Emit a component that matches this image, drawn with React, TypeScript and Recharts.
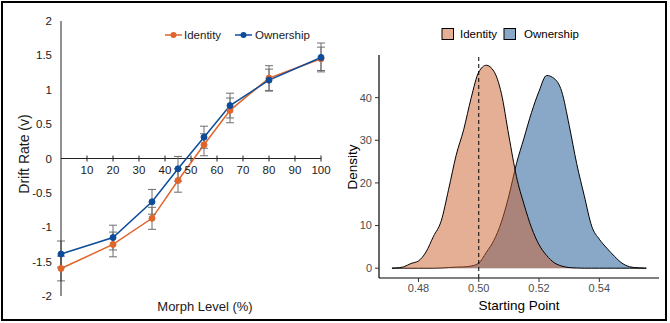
import {
  LineChart,
  Line,
  AreaChart,
  Area,
  XAxis,
  YAxis,
  ErrorBar,
  ReferenceLine,
  ReferenceDot,
} from 'recharts'

// Left panel: drift rate by morph level
const morphLevels = [0, 20, 35, 45, 55, 65, 80, 100]
const identityDrift = [-1.6, -1.25, -0.87, -0.32, 0.2, 0.7, 1.17, 1.45]
const identityErr = [0.18, 0.18, 0.16, 0.17, 0.16, 0.18, 0.18, 0.17]
const ownershipDrift = [-1.39, -1.15, -0.63, -0.15, 0.31, 0.77, 1.14, 1.47]
const ownershipErr = [0.19, 0.18, 0.18, 0.18, 0.16, 0.18, 0.16, 0.21]
const morphTicks = [10, 20, 30, 40, 50, 60, 70, 80, 90, 100]
const driftTicks = [-2, -1.5, -1, -0.5, 0, 0.5, 1, 1.5, 2]

// Right panel: posterior densities of the starting point
const startingPoint = [
  0.4712, 0.4725, 0.475, 0.4775, 0.48, 0.4825, 0.485, 0.4875, 0.49, 0.4925,
  0.495, 0.4975, 0.5, 0.5025, 0.505, 0.5075, 0.51, 0.5125, 0.515, 0.5175,
  0.52, 0.5225, 0.525, 0.5275, 0.53, 0.5325, 0.535, 0.5375, 0.54, 0.5425,
  0.545, 0.5475, 0.55, 0.5525, 0.555, 0.5556,
]
const identityDensity = [
  0, 0.05, 0.3, 1.1, 1.7, 3.8, 7.5, 11, 18.5, 26.5,
  32.5, 40, 46, 47.6, 46.2, 41, 31, 21.5, 15, 9.5,
  5.5, 3, 1.3, 0.5, 0.15, 0.05, 0, 0, 0, 0,
  0, 0, 0, 0, 0, 0,
]
const ownershipDensity = [
  0, 0, 0, 0, 0, 0, 0, 0.05, 0.15, 0.25,
  0.3, 0.5, 1.2, 3.7, 6.5, 10.8, 17, 24.5, 30.5, 36.5,
  41.5, 45.2, 44.5, 41.5, 33.5, 24.5, 17, 9.8, 6.8, 4.7,
  2.8, 1.2, 0.35, 0.1, 0.02, 0,
]
const densityTicks = [0, 10, 20, 30, 40]
const pointTicks = [0.48, 0.5, 0.52, 0.54]

const ORANGE = '#E0652C'
const BLUE = '#0D4C98'
const FONT = '"Liberation Sans", Arial, sans-serif'

const driftData = morphLevels.map((m, i) => ({
  morph: m,
  identity: identityDrift[i],
  identityErr: identityErr[i],
  ownership: ownershipDrift[i],
  ownershipErr: ownershipErr[i],
}))

const densityData = startingPoint.map((sp, i) => ({
  sp,
  identity: identityDensity[i],
  ownership: ownershipDensity[i],
}))

/**
 * Tick mark + label for the x axis that sits on y = 0
 */
function MorphTick(props: { cx?: number; cy?: number; value: number }) {
  const { cx, cy, value } = props
  if (cx === undefined || cy === undefined) return null
  return (
    <g>
      <line x1={cx} x2={cx} y1={cy - 3} y2={cy + 3} stroke="#222" strokeWidth={1} />
      <text x={cx} y={cy + 15} textAnchor="middle" fontSize={11.5} fill="#1a1a1a" stroke="none" fontFamily={FONT}>
        {value}
      </text>
    </g>
  )
}

export default function App() {
  return (
    <div
      style={{
        position: 'absolute',
        left: 0,
        top: 0,
        width: 670,
        height: 323,
        background: '#fff',
        fontFamily: FONT,
      }}
    >
      {/* Left panel */}
      <div style={{ position: 'absolute', left: 0, top: 0 }}>
        <LineChart
          width={335}
          height={323}
          data={driftData}
          margin={{ top: 21, right: 14, left: 21, bottom: 27 }}
        >
          <XAxis dataKey="morph" type="number" domain={[0, 100]} hide />
          <YAxis
            type="number"
            domain={[-2, 2]}
            ticks={driftTicks}
            width={40}
            tickLine={false}
            tickSize={6}
            tickMargin={3}
            axisLine={{ stroke: '#222', strokeWidth: 1 }}
            tick={{ fill: '#1a1a1a', fontSize: 11.5, fontFamily: FONT }}
            interval={0}
          />
          <ReferenceLine y={0} stroke="#222" strokeWidth={1} />
          {morphTicks.map((t) => (
            <ReferenceDot
              key={t}
              x={t}
              y={0}
              r={0}
              shape={(p: { cx?: number; cy?: number }) => <MorphTick cx={p.cx} cy={p.cy} value={t} />}
            />
          ))}
          <Line
            type="linear"
            dataKey="identity"
            stroke={ORANGE}
            strokeWidth={1.5}
            dot={{ r: 3, fill: ORANGE, stroke: ORANGE, strokeWidth: 1 }}
            isAnimationActive={false}
          >
            <ErrorBar dataKey="identityErr" width={4} stroke="#6f6f6f" strokeWidth={1} />
          </Line>
          <Line
            type="linear"
            dataKey="ownership"
            stroke={BLUE}
            strokeWidth={1.5}
            dot={{ r: 3, fill: BLUE, stroke: BLUE, strokeWidth: 1 }}
            isAnimationActive={false}
          >
            <ErrorBar dataKey="ownershipErr" width={4} stroke="#6f6f6f" strokeWidth={1} />
          </Line>
        </LineChart>
      </div>

      {/* Right panel */}
      <div style={{ position: 'absolute', left: 335, top: 0 }}>
        <AreaChart
          width={335}
          height={323}
          data={densityData}
          margin={{ top: 55, right: 11, left: 14, bottom: 15 }}
        >
          <XAxis
            dataKey="sp"
            type="number"
            domain={[0.4669, 0.5598]}
            ticks={pointTicks}
            allowDataOverflow
            height={30}
            tickSize={4}
            tickMargin={2}
            tickFormatter={(v: number) => v.toFixed(2)}
            axisLine={{ stroke: '#000', strokeWidth: 1.2 }}
            tickLine={{ stroke: '#333' }}
            tick={{ fill: '#4d4d4d', fontSize: 11, fontFamily: FONT }}
            interval={0}
          />
          <YAxis
            type="number"
            domain={[-2.3, 50]}
            ticks={densityTicks}
            allowDataOverflow
            width={30}
            tickSize={4}
            tickMargin={3}
            axisLine={{ stroke: '#000', strokeWidth: 1.2 }}
            tickLine={{ stroke: '#333' }}
            tick={{ fill: '#4d4d4d', fontSize: 11, fontFamily: FONT }}
            interval={0}
          />
          <Area
            type="monotone"
            dataKey="ownership"
            baseValue={0}
            stroke="#000"
            strokeWidth={1}
            fill="#135191"
            fillOpacity={0.5}
            dot={false}
            activeDot={false}
            isAnimationActive={false}
          />
          <Area
            type="monotone"
            dataKey="identity"
            baseValue={0}
            stroke="#000"
            strokeWidth={1}
            fill="#CB5F2B"
            fillOpacity={0.5}
            dot={false}
            activeDot={false}
            isAnimationActive={false}
          />
          <ReferenceLine x={0.5} stroke="#000" strokeWidth={1} strokeDasharray="4 3" />
        </AreaChart>
      </div>

      {/* Titles and legends */}
      <svg
        width={670}
        height={323}
        style={{ position: 'absolute', left: 0, top: 0, pointerEvents: 'none' }}
        fontFamily={FONT}
      >
        <text x={24} y={154} transform="rotate(-90 24 154)" textAnchor="middle" dominantBaseline="central" fontSize={14} fill="#1a1a1a">
          Drift Rate (v)
        </text>
        <text x={205} y={306} textAnchor="middle" dominantBaseline="central" fontSize={13} fill="#1a1a1a">
          Morph Level (%)
        </text>

        {/* left legend */}
        <line x1={165} x2={182} y1={35} y2={35} stroke={ORANGE} strokeWidth={1.5} />
        <circle cx={173.5} cy={35} r={3} fill={ORANGE} />
        <text x={184} y={35} dominantBaseline="central" fontSize={11.5} fill="#1a1a1a">Identity</text>
        <line x1={235} x2={252} y1={35} y2={35} stroke={BLUE} strokeWidth={1.5} />
        <circle cx={243.5} cy={35} r={3} fill={BLUE} />
        <text x={255} y={35} dominantBaseline="central" fontSize={11.5} fill="#1a1a1a">Ownership</text>

        <text x={352} y={167} transform="rotate(-90 352 167)" textAnchor="middle" dominantBaseline="central" fontSize={13.5} fill="#000">
          Density
        </text>
        <text x={519} y={305} textAnchor="middle" dominantBaseline="central" fontSize={13.5} fill="#000">
          Starting Point
        </text>

        {/* right legend */}
        <rect x={442} y={28.5} width={11.5} height={11} fill="#CB5F2B" fillOpacity={0.5} stroke="#000" strokeWidth={1} />
        <text x={460} y={34} dominantBaseline="central" fontSize={11.5} fill="#000">Identity</text>
        <rect x={504} y={28.5} width={11.5} height={11} fill="#135191" fillOpacity={0.5} stroke="#000" strokeWidth={1} />
        <text x={524} y={34} dominantBaseline="central" fontSize={11.5} fill="#000">Ownership</text>
      </svg>

      {/* outer frame */}
      <div
        style={{
          position: 'absolute',
          left: 1,
          top: 1,
          width: 666,
          height: 320,
          border: '2px solid #000',
          boxSizing: 'border-box',
        }}
      />
    </div>
  )
}
